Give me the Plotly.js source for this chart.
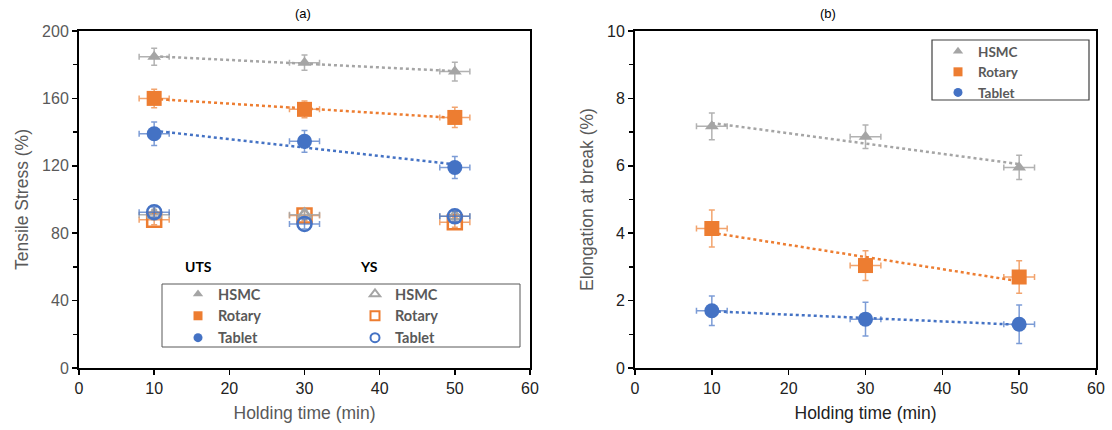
<!DOCTYPE html>
<html>
<head>
<meta charset="utf-8">
<script src="https://cdn.plot.ly/plotly-3.0.1.min.js"></script>
<style>html,body{margin:0;padding:0;background:#fff;}#chart{width:1112px;height:430px;}</style>
</head>
<body>
<div id="chart"></div>
<script>
// ---- data ----
const holdTime = [10, 30, 50];
const timeErr = [2, 2, 2];

const utsHSMC = [184.7, 181.2, 175.9];
const utsHSMCErr = [5, 4.5, 5.5];
const utsRotary = [160, 153.5, 148.7];
const utsRotaryErr = [5.5, 5, 6];
const utsTablet = [139, 134.5, 119];
const utsTabletErr = [7, 6.5, 6.5];

const ysHSMC = [91, 91, 90];
const ysHSMCErr = [3, 3, 3];
const ysRotary = [88, 90.5, 86.5];
const ysRotaryErr = [3, 3, 3];
const ysTablet = [92.5, 85.5, 90];
const ysTabletErr = [3, 3, 3];

const elHSMC = [7.17, 6.86, 5.95];
const elHSMCErr = [0.4, 0.35, 0.36];
const elRotary = [4.14, 3.04, 2.7];
const elRotaryErr = [0.55, 0.44, 0.48];
const elTablet = [1.7, 1.45, 1.3];
const elTabletErr = [0.44, 0.5, 0.57];

const names = ['HSMC', 'Rotary', 'Tablet'];

// ---- styles ----
const GRAY = '#A5A5A5', ORANGE = '#ED7D31', BLUE = '#4472C4';
const GRAY_E = 'rgba(165,165,165,0.85)', ORANGE_E = 'rgba(237,125,49,0.7)', BLUE_E = 'rgba(68,114,196,0.7)';
const TXT = '#595959';

function fit(x, y) {
  const n = x.length;
  const mx = x.reduce((a, b) => a + b, 0) / n;
  const my = y.reduce((a, b) => a + b, 0) / n;
  let sxy = 0, sxx = 0;
  for (let i = 0; i < n; i++) { sxy += (x[i] - mx) * (y[i] - my); sxx += (x[i] - mx) * (x[i] - mx); }
  const b = sxy / sxx, a = my - b * mx;
  const xs = [x[0], x[n - 1]];
  return {x: xs, y: xs.map(v => a + b * v)};
}

function trend(y, color, xa, ya) {
  const f = fit(holdTime, y);
  return {x: f.x, y: f.y, xaxis: xa, yaxis: ya, mode: 'lines', showlegend: false, hoverinfo: 'skip',
    line: {color: color, width: 2.5, dash: 'dot'}};
}

function pts(y, err, color, ecolor, symbol, size, xa, ya, lw) {
  return {x: holdTime, y: y, xaxis: xa, yaxis: ya, mode: 'markers', showlegend: false,
    marker: {symbol: symbol, size: size, color: color, line: {color: color, width: lw || 0}},
    error_y: {type: 'data', array: err, visible: true, color: ecolor, thickness: 1.5, width: 3},
    error_x: {type: 'data', array: timeErr, visible: true, color: ecolor, thickness: 1.5, width: 3}};
}

function legendEntry(name, color, symbol, legend, lw) {
  return {x: [null], y: [null], xaxis: 'x', yaxis: 'y', mode: 'markers', name: name, legend: legend,
    showlegend: true, marker: {symbol: symbol, size: 9, color: color, line: {color: color, width: lw || 0}}};
}

const traces = [
  trend(utsHSMC, GRAY, 'x', 'y'),
  trend(utsRotary, ORANGE, 'x', 'y'),
  trend(utsTablet, BLUE, 'x', 'y'),
  pts(utsHSMC, utsHSMCErr, GRAY, GRAY_E, 'triangle-up', 12, 'x', 'y'),
  pts(utsRotary, utsRotaryErr, ORANGE, ORANGE_E, 'square', 15, 'x', 'y'),
  pts(utsTablet, utsTabletErr, BLUE, BLUE_E, 'circle', 15, 'x', 'y'),
  pts(ysRotary, ysRotaryErr, ORANGE, ORANGE_E, 'square-open', 14, 'x', 'y', 2.5),
  pts(ysHSMC, ysHSMCErr, GRAY, GRAY_E, 'triangle-up-open', 12, 'x', 'y', 2.5),
  pts(ysTablet, ysTabletErr, BLUE, BLUE_E, 'circle-open', 14, 'x', 'y', 2.5),

  trend(elHSMC, GRAY, 'x2', 'y2'),
  trend(elRotary, ORANGE, 'x2', 'y2'),
  trend(elTablet, BLUE, 'x2', 'y2'),
  pts(elHSMC, elHSMCErr, GRAY, GRAY_E, 'triangle-up', 12, 'x2', 'y2'),
  pts(elRotary, elRotaryErr, ORANGE, ORANGE_E, 'square', 15, 'x2', 'y2'),
  pts(elTablet, elTabletErr, BLUE, BLUE_E, 'circle', 15, 'x2', 'y2'),

  legendEntry(names[0], GRAY, 'triangle-up', 'legend'),
  legendEntry(names[1], ORANGE, 'square', 'legend'),
  legendEntry(names[2], BLUE, 'circle', 'legend'),
  legendEntry(names[0], GRAY, 'triangle-up-open', 'legend2', 2),
  legendEntry(names[1], ORANGE, 'square-open', 'legend2', 2),
  legendEntry(names[2], BLUE, 'circle-open', 'legend2', 2),
  legendEntry(names[0], GRAY, 'triangle-up', 'legend3'),
  legendEntry(names[1], ORANGE, 'square', 'legend3'),
  legendEntry(names[2], BLUE, 'circle', 'legend3')
];

const W = 1112, H = 430, T = 31, B = 62;
const PH = H - T - B;
const px = v => v / W;
const py = v => (H - B - v) / PH;

const tickFont = {family: 'Liberation Sans, Arial, sans-serif', size: 16, color: '#222'};
const legFont = {family: 'Lato, Liberation Sans, sans-serif', size: 14.5, color: TXT, weight: 'bold'};

function xAxis(domain, titleColor, anchor) {
  return {domain: domain, range: [0, 60], dtick: 10, tick0: 0, anchor: anchor,
    showline: true, linecolor: '#000', linewidth: 2, mirror: true,
    ticks: 'outside', ticklen: 5, tickwidth: 1.5, tickcolor: '#000',
    showgrid: false, zeroline: false, tickfont: tickFont,
    title: {text: 'Holding time (min)', font: {family: 'Liberation Sans, Arial, sans-serif', size: 17.5, color: titleColor}, standoff: 11}};
}
function yAxis(range, dtick, minor, title, tickColor, anchor) {
  return {domain: [0, 1], range: range, dtick: dtick, tick0: 0, anchor: anchor,
    showline: true, linecolor: '#000', linewidth: 2, mirror: true,
    ticks: 'outside', ticklen: 5, tickwidth: 1.5, tickcolor: '#000',
    minor: {dtick: minor, ticks: 'outside', ticklen: 4, tickwidth: 1.5, tickcolor: '#000', showgrid: false},
    showgrid: false, zeroline: false,
    tickfont: {family: 'Liberation Sans, Arial, sans-serif', size: 16, color: tickColor},
    title: {text: title, font: {family: 'Liberation Sans, Arial, sans-serif', size: 17.5, color: TXT}, standoff: 9}};
}

const legBase = {bgcolor: 'rgba(0,0,0,0)', borderwidth: 0, font: legFont, xref: 'paper', yref: 'paper',
  xanchor: 'left', yanchor: 'top', orientation: 'v', tracegroupgap: 0, itemclick: false, itemdoubleclick: false};

const layout = {
  width: W, height: H,
  margin: {l: 0, r: 0, t: T, b: B},
  paper_bgcolor: '#fff', plot_bgcolor: '#fff',
  showlegend: true,
  xaxis: xAxis([px(79), px(530)], TXT, 'y'),
  yaxis: yAxis([0, 200], 40, 20, 'Tensile Stress (%)', TXT, 'x'),
  xaxis2: xAxis([px(635), px(1096)], '#222', 'y2'),
  yaxis2: yAxis([0, 10], 2, 1, 'Elongation at break (%)', '#222', 'x2'),
  legend: Object.assign({}, legBase, {x: px(178), y: py(278)}),
  legend2: Object.assign({}, legBase, {x: px(355), y: py(278)}),
  legend3: Object.assign({}, legBase, {x: px(938), y: py(36), font: Object.assign({}, legFont, {size: 13.5})}),
  shapes: [
    {type: 'rect', xref: 'paper', yref: 'paper', x0: px(162), x1: px(520), y0: py(347), y1: py(284),
      line: {color: TXT, width: 1}, fillcolor: 'rgba(0,0,0,0)'},
    {type: 'rect', xref: 'paper', yref: 'paper', x0: px(932), x1: px(1089), y0: py(100), y1: py(40),
      line: {color: '#404040', width: 1.2}, fillcolor: 'rgba(0,0,0,0)'}
  ],
  annotations: [
    {text: '(a)', xref: 'paper', yref: 'paper', x: px(303), y: py(14), xanchor: 'center', yanchor: 'middle', showarrow: false,
      font: {family: 'Liberation Sans, Arial, sans-serif', size: 13, color: '#000'}},
    {text: '(b)', xref: 'paper', yref: 'paper', x: px(828), y: py(14), xanchor: 'center', yanchor: 'middle', showarrow: false,
      font: {family: 'Liberation Sans, Arial, sans-serif', size: 13, color: '#000'}},
    {text: '<b>UTS</b>', xref: 'paper', yref: 'paper', x: px(198), y: py(266), xanchor: 'center', yanchor: 'middle', showarrow: false,
      font: {family: 'Lato, Liberation Sans, sans-serif', size: 14, color: '#000'}},
    {text: '<b>YS</b>', xref: 'paper', yref: 'paper', x: px(369), y: py(266), xanchor: 'center', yanchor: 'middle', showarrow: false,
      font: {family: 'Lato, Liberation Sans, sans-serif', size: 14, color: '#000'}}
  ]
};

Plotly.newPlot('chart', traces, layout, {staticPlot: true, displayModeBar: false});
</script>
</body>
</html>
